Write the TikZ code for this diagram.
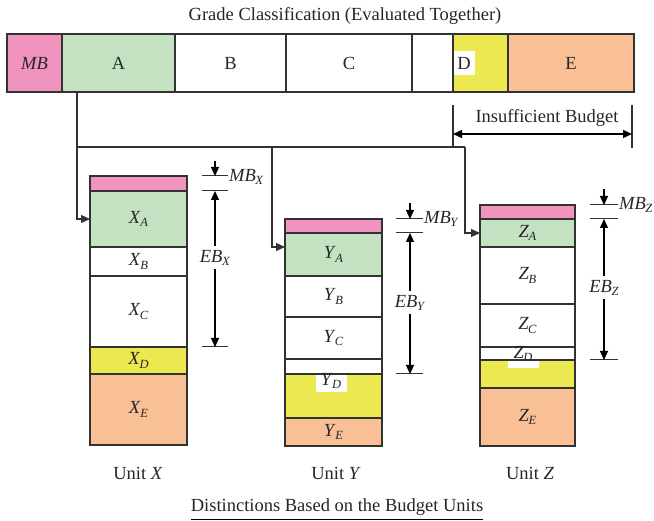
\documentclass[tikz,border=0pt]{standalone}
\usepackage{fontspec}
\setmainfont{Liberation Serif}
\usetikzlibrary{arrows.meta}
\definecolor{cpink}{RGB}{240,147,190}
\definecolor{cgreen}{RGB}{196,226,194}
\definecolor{cyel}{RGB}{236,232,80}
\definecolor{corange}{RGB}{249,192,150}
\definecolor{cline}{RGB}{50,50,50}
\newcommand{\sbl}[2]{\textit{#1}\kern-0.5pt\raisebox{-0.45ex}{\fontsize{12.5}{13}\selectfont\textit{#2}}}
\begin{document}
\begin{tikzpicture}[x=1pt,y=-1pt,
  every node/.style={font=\fontsize{18.5}{22}\selectfont, text=black!85},
  seg/.style={draw=cline, line width=1.1pt, inner sep=0pt, outer sep=0pt},
  conn/.style={draw=cline, line width=1.1pt, -{Triangle[length=9pt,width=8pt]}},
  plain/.style={draw=cline, line width=1.1pt},
  dimarr/.style={draw=black, line width=1.2pt, -{Triangle[length=9pt,width=8pt]}},
  tick/.style={draw=cline, line width=1pt},
  wlab/.style={fill=white, inner sep=0pt}]
\useasboundingbox (0,0) rectangle (654,521);

% title
\node (title) at (345,16) {Grade Classification (Evaluated Together)};

% top bar
\node[seg, fill=cpink, minimum width=55, minimum height=58] (bMB) at (34.5,63) {\textit{MB}};
\node[seg, fill=cgreen, minimum width=113, minimum height=58] (bA) at (118.5,63) {A};
\node[seg, fill=white, minimum width=111, minimum height=58] (bB) at (230.5,63) {B};
\node[seg, fill=white, minimum width=126, minimum height=58] (bC) at (349,63) {C};
\node[seg, fill=white, minimum width=41, minimum height=58] (bG) at (432.5,63) {};
\node[seg, fill=cyel, minimum width=55, minimum height=58] (bD) at (480.5,63) {};
\node[seg, fill=corange, minimum width=126, minimum height=58] (bE) at (571,63) {E};
\node[wlab, minimum width=21, minimum height=24] (bDl) at (464,63) {D};

% connectors
\coordinate (j1) at (77,147);
\coordinate (j2) at (272,147);
\coordinate (j3) at (465,147);

% Unit X
\node[seg, fill=cpink, minimum width=97, minimum height=15] (xMB) at (138.5,183.5) {};
\node[seg, fill=cgreen, minimum width=97, minimum height=56] (xA) at (138.5,219) {\sbl{X}{A}};
\node[seg, fill=white, minimum width=97, minimum height=29] (xB) at (138.5,261.5) {\sbl{X}{B}};
\node[seg, fill=white, minimum width=97, minimum height=71] (xC) at (138.5,311.5) {\sbl{X}{C}};
\node[seg, fill=cyel, minimum width=97, minimum height=27] (xD) at (138.5,360.5) {\sbl{X}{D}};
\node[seg, fill=corange, minimum width=97, minimum height=71] (xE) at (138.5,409.5) {\sbl{X}{E}};

% Unit Y
\node[seg, fill=cpink, minimum width=97, minimum height=14] (yMB) at (333.5,226) {};
\node[seg, fill=cgreen, minimum width=97, minimum height=43] (yA) at (333.5,254.5) {\sbl{Y}{A}};
\node[seg, fill=white, minimum width=97, minimum height=41] (yB) at (333.5,296.5) {\sbl{Y}{B}};
\node[seg, fill=white, minimum width=97, minimum height=42] (yC) at (333.5,338) {\sbl{Y}{C}};
\node[seg, fill=white, minimum width=97, minimum height=15] (yG) at (333.5,366.5) {};
\node[seg, fill=cyel, minimum width=97, minimum height=44] (yD) at (333.5,396) {};
\node[seg, fill=corange, minimum width=97, minimum height=28] (yE) at (333.5,432) {\sbl{Y}{E}};
\fill[white] (316,374.8) rectangle (347,392);
\node[inner sep=0pt] (yDl) at (331,381) {\sbl{Y}{D}};

% Unit Z
\node[seg, fill=cpink, minimum width=95, minimum height=14] (zMB) at (527.5,212) {};
\node[seg, fill=cgreen, minimum width=95, minimum height=28] (zA) at (527.5,233) {\sbl{Z}{A}};
\node[seg, fill=white, minimum width=95, minimum height=57] (zB) at (527.5,275.5) {\sbl{Z}{B}};
\node[seg, fill=white, minimum width=95, minimum height=43] (zC) at (527.5,325.5) {\sbl{Z}{C}};
\node[seg, fill=white, minimum width=95, minimum height=13] (zG) at (527.5,353.5) {};
\node[seg, fill=cyel, minimum width=95, minimum height=28] (zD) at (527.5,374) {};
\node[seg, fill=corange, minimum width=95, minimum height=58] (zE) at (527.5,417) {\sbl{Z}{E}};
\fill[white] (508,360.6) rectangle (539,368);
\node[inner sep=0pt] (zDl) at (523,354) {\sbl{Z}{D}};

% connector lines
\draw[conn] (bA.south west) ++(15,0) |- (xA.west);
\draw[plain] (j1) -- (j3);
\draw[conn] (j2) |- ([yshift=7.5pt]yA.west);
\draw[conn] (j3) |- (zA.west);

% insufficient budget
\coordinate (ib1) at (453,105);
\coordinate (ib2) at (632,105);
\draw[plain] (ib1) -- (453,147);
\draw[plain] (ib2) -- (632,148);
\draw[line width=1.4pt, {Triangle[length=9pt,width=8pt]}-{Triangle[length=9pt,width=8pt]}] (453,134) -- (632,134);
\node (ibl) at (547,118) {Insufficient Budget};

% dimensions X
\draw[tick] (202,176) -- (228,176);
\draw[tick] (202,191) -- (228,191);
\draw[tick] (202,347) -- (228,347);
\draw[dimarr] (215,161) -- (215,176);
\node (ebx) at (215,258) {\sbl{EB}{X}};
\draw[dimarr] (ebx.north) -- (215,191);
\draw[dimarr] (ebx.south) -- (215,347);
\node[anchor=west, inner sep=1pt] (mbx) at (228,177) {\sbl{MB}{X}};

% dimensions Y
\draw[tick] (396,219) -- (423,219);
\draw[tick] (396,233) -- (423,233);
\draw[tick] (396,374) -- (423,374);
\draw[dimarr] (410,203) -- (410,219);
\node (eby) at (410,303) {\sbl{EB}{Y}};
\draw[dimarr] (eby.north) -- (410,233);
\draw[dimarr] (eby.south) -- (410,374);
\node[anchor=west, inner sep=1pt] (mby) at (423,219) {\sbl{MB}{Y}};

% dimensions Z
\draw[tick] (590,205) -- (618,205);
\draw[tick] (590,219) -- (618,219);
\draw[tick] (590,360) -- (618,360);
\draw[dimarr] (604,189) -- (604,205);
\node (ebz) at (604,288) {\sbl{EB}{Z}};
\draw[dimarr] (ebz.north) -- (604,219);
\draw[dimarr] (ebz.south) -- (604,360);
\node[anchor=west, inner sep=1pt] (mbz) at (618,205) {\sbl{MB}{Z}};

% unit labels
\node (ux) at (138,473) {Unit \textit{X}};
\node (uy) at (336,473) {Unit \textit{Y}};
\node (uz) at (530,473) {Unit \textit{Z}};

% bottom title
\node (btitle) at (337,507) {Distinctions Based on the Budget Units};
\draw[line width=1.1pt] (btitle.south west) ++(4,1) -- ([xshift=-4pt,yshift=-1pt]btitle.south east);
\end{tikzpicture}
\end{document}
